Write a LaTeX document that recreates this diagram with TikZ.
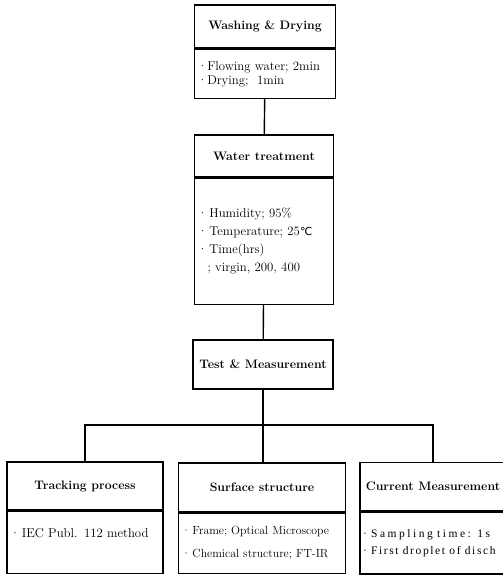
\documentclass[tikz,border=0pt]{standalone}
\usepackage{fontspec}
\newfontfamily\widefont{Liberation Serif}[LetterSpace=14]
\newfontfamily\symfont{DejaVu Sans}
\usetikzlibrary{positioning}

\begin{document}
\begin{tikzpicture}[x=1pt, y=-1pt, line width=1.4pt,
	head/.style = {draw, inner sep=2pt, font=\fontsize{12.3}{14}\selectfont\bfseries},
	body/.style = {draw, inner xsep=3pt, align=left, font=\fontsize{12.8}{15}\selectfont}]
	\useasboundingbox (0,0) rectangle (503,576);
	% main column
	\node[head, minimum width=141pt, minimum height=43pt] (wash) at (265,26.5) {Washing \& Drying};
	\node[body, text width=135pt, minimum height=49pt] (washbody) [below=0pt of wash]
		{\textperiodcentered Flowing water; 2min\\[-1pt] \textperiodcentered Drying;\ \ 1min};
	\node[head, minimum width=139pt, minimum height=42pt] (water) at (264,156) {Water treatment};
	\node[body, text width=133pt, minimum height=126pt] (waterbody) [below=0pt of water]
		{\textperiodcentered\,Humidity; 95\%\\[3pt] \textperiodcentered\,Temperature; 25{\symfont\fontsize{11}{13}\selectfont ℃}\\[3pt]
		 \textperiodcentered\,Time(hrs)\\[3pt] \hspace{10pt}; virgin, 200, 400};
	\node[head, minimum width=140pt, minimum height=49pt] (test) at (263,364.5) {Test \& Measurement};
	% bottom row
	\coordinate (split) at (263,425);
	\node[head, minimum width=156pt, minimum height=48pt] (track) at (85,486) {Tracking process};
	\node[body, text width=150pt, minimum height=62pt] (trackbody) [below=0pt of track]
		{\textperiodcentered\,IEC Publ. 112 method\\[4pt] \mbox{}};
	\node[head, minimum width=167pt, minimum height=49pt] (surf) at (262,487.5) {Surface structure};
	\node[body, text width=161pt, minimum height=60pt, font=\fontsize{11.8}{14}\selectfont] (surfbody) [below=0pt of surf]
		{\textperiodcentered\,Frame; Optical Microscope\\[9pt] \textperiodcentered\,Chemical structure; FT-IR};
	\node[head, minimum width=146pt, minimum height=48pt] (current) at (433,486.5) {Current Measurement};
	\node[body, text width=140pt, minimum height=62pt] (currentbody) [below=0pt of current]
		{\widefont\fontsize{11.5}{14}\selectfont\addfontfeature{LetterSpace=22}\textperiodcentered\ Sampling time: 1s\\[2pt]
		 \widefont\fontsize{11.5}{14}\selectfont\textperiodcentered\ First droplet of disch};
	\draw (washbody) -- (water);
	\draw (waterbody) -- (test);
	\draw (test) -- (split);
	\draw (split) -- (split |- surf.north);
	\draw (track) |- (split) -| (current);
\end{tikzpicture}
\end{document}
